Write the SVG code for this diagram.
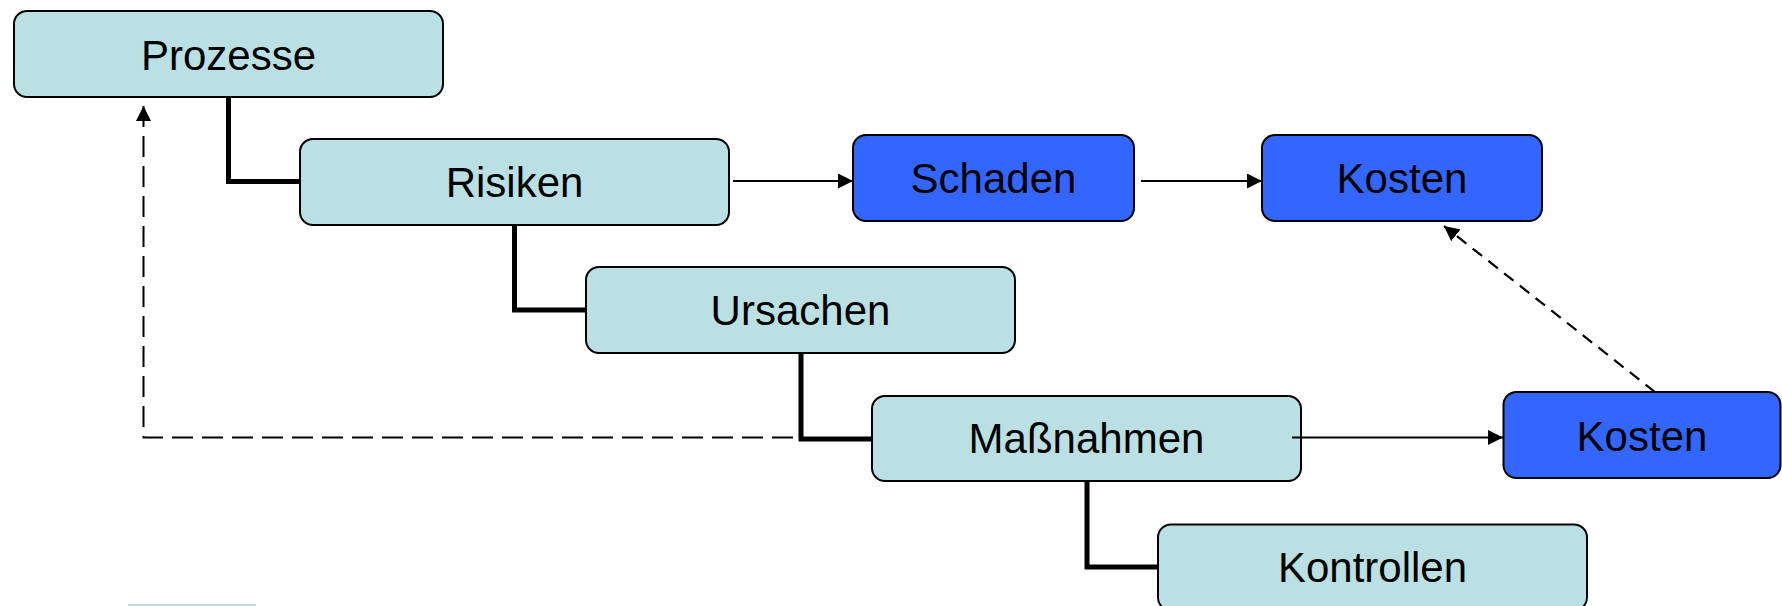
<svg xmlns="http://www.w3.org/2000/svg" width="1782" height="606" viewBox="0 0 1782 606">
  <style>
    .light { fill: #BBE0E3; stroke: #000; stroke-width: 2; }
    .blue { fill: #3366FF; stroke: #000; stroke-width: 2; }
    .lbl { font-family: "Liberation Sans", Arial, sans-serif; font-size: 42px; fill: #000; text-anchor: middle; }
    .tree { fill: none; stroke: #000; stroke-width: 5; stroke-linejoin: miter; }
    .thin { fill: none; stroke: #000; stroke-width: 1.8; }
    .dash1 { fill: none; stroke: #000; stroke-width: 2; stroke-dasharray: 21 9; }
    .dash2 { fill: none; stroke: #000; stroke-width: 2.2; stroke-dasharray: 12 8; }
  </style>
  <defs>
    <marker id="arrow" viewBox="0 0 15 15" markerUnits="userSpaceOnUse" markerWidth="15" markerHeight="15" refX="15" refY="7.5" orient="auto">
      <path d="M0,0 L15,7.5 L0,15 Z" fill="#000"/>
    </marker>
  </defs>
  <rect width="1782" height="606" fill="#fff"/>

  <g id="node-prozesse">
    <rect class="light" x="14" y="11" width="429" height="86" rx="13"/>
    <text class="lbl" x="228.5" y="70">Prozesse</text>
  </g>
  <g id="node-risiken">
    <rect class="light" x="300" y="139" width="429" height="86" rx="13"/>
    <text class="lbl" x="514.5" y="197">Risiken</text>
  </g>
  <g id="node-schaden">
    <rect class="blue" x="853" y="135" width="281" height="86" rx="13"/>
    <text class="lbl" x="993.5" y="193">Schaden</text>
  </g>
  <g id="node-kosten1">
    <rect class="blue" x="1262" y="135" width="280" height="86" rx="13"/>
    <text class="lbl" x="1402" y="193">Kosten</text>
  </g>
  <g id="node-ursachen">
    <rect class="light" x="586" y="267" width="429" height="86" rx="13"/>
    <text class="lbl" x="800.5" y="325">Ursachen</text>
  </g>
  <g id="node-massnahmen">
    <rect class="light" x="872" y="396" width="429" height="85" rx="13"/>
    <text class="lbl" x="1086.5" y="453">Maßnahmen</text>
  </g>
  <g id="node-kosten2">
    <rect class="blue" x="1503.5" y="392" width="277" height="86" rx="13"/>
    <text class="lbl" x="1642" y="450.5">Kosten</text>
  </g>
  <g id="node-kontrollen">
    <rect class="light" x="1158" y="524.5" width="429" height="86" rx="13"/>
    <text class="lbl" x="1372.5" y="582">Kontrollen</text>
  </g>
  <g id="node-partial">
    <rect x="128" y="604" width="128" height="10" fill="#BBE0E3"/>
  </g>

  <g id="connectors">
    <path class="tree" d="M228.5,98 V181.5 H299"/>
    <path class="tree" d="M514.5,226 V310 H585"/>
    <path class="tree" d="M801,354 V439 H871"/>
    <path class="tree" d="M1087,482 V567 H1157"/>
    <line class="thin" x1="733" y1="181" x2="853" y2="181" marker-end="url(#arrow)"/>
    <line class="thin" x1="1141" y1="181" x2="1262" y2="181" marker-end="url(#arrow)"/>
    <line class="thin" x1="1292" y1="437.5" x2="1503" y2="437.5" marker-end="url(#arrow)"/>
    <path class="dash1" d="M793,437.5 H143.5 V106" marker-end="url(#arrow)"/>
    <line class="dash2" x1="1655" y1="392" x2="1444" y2="226" marker-end="url(#arrow)"/>
  </g>
</svg>
